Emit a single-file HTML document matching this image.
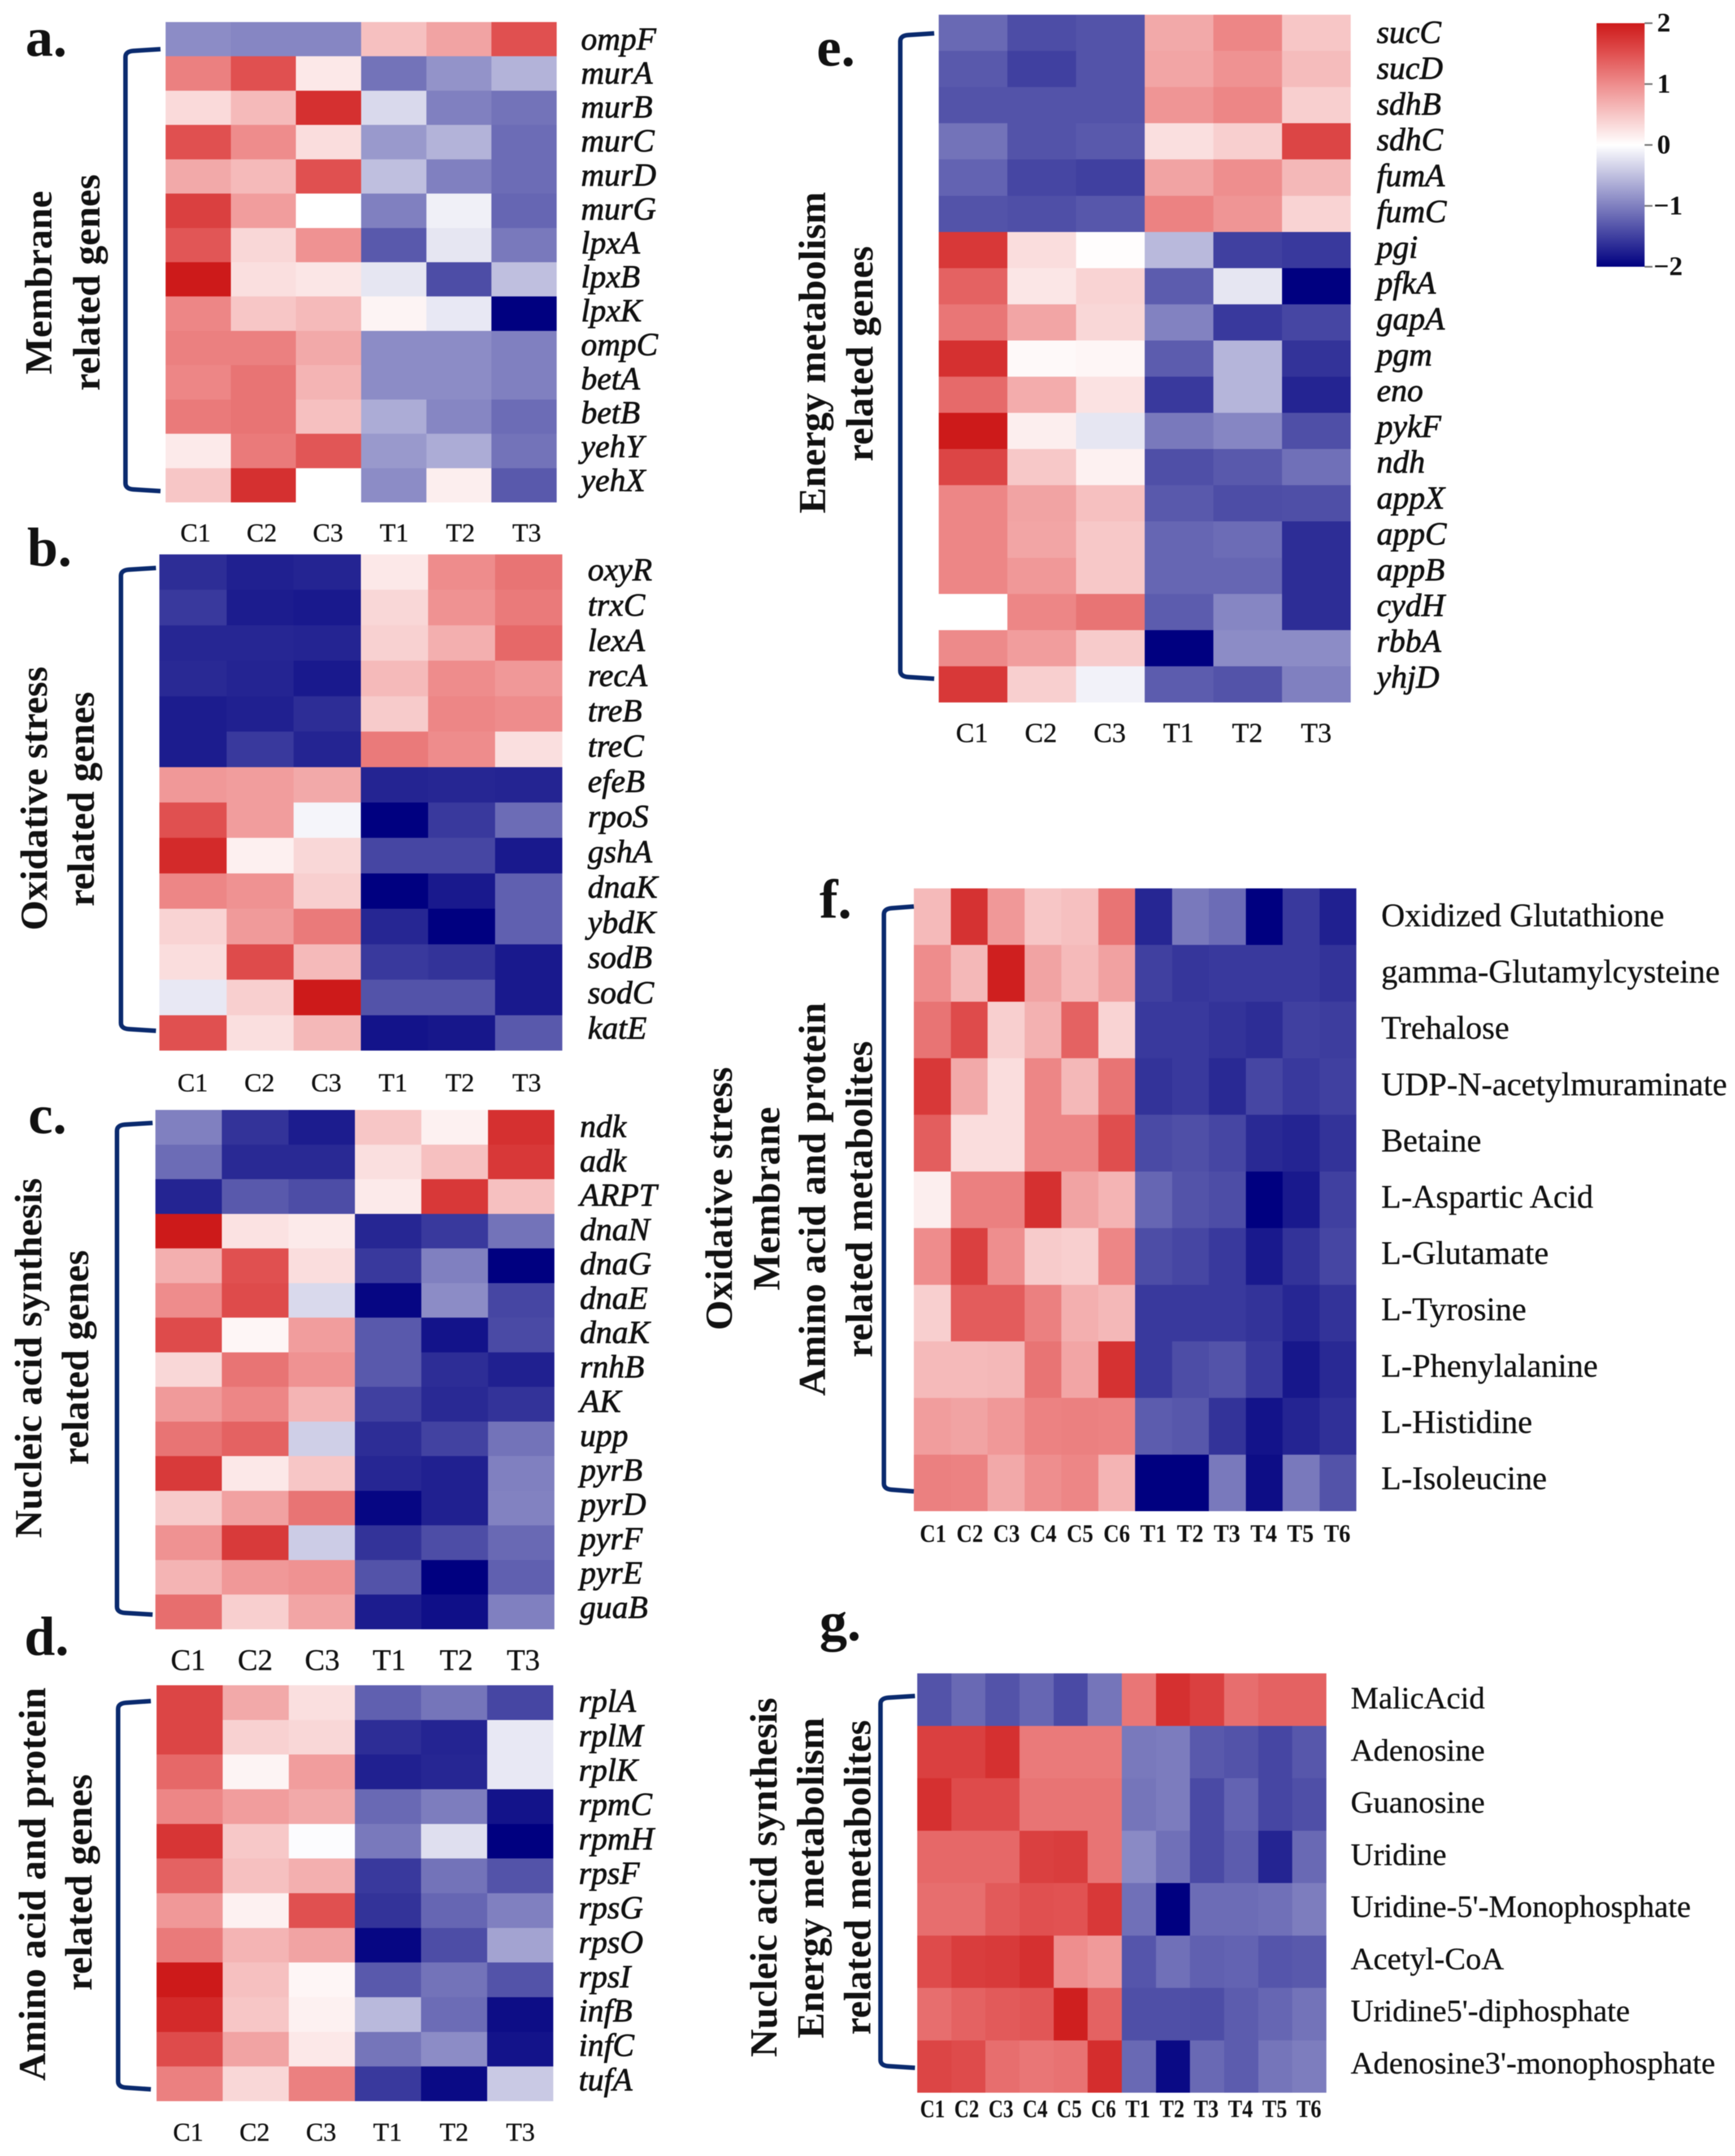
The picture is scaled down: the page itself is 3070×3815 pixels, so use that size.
<!DOCTYPE html>
<html lang="en">
<head>
<meta charset="utf-8">
<title>Gene and metabolite heatmaps</title>
<style>
  html, body { margin: 0; padding: 0; background: #fff; }
  svg { display: block; font-family: "Liberation Serif", serif; filter: blur(0.7px); }
</style>
</head>
<body>
<svg id="figure" xmlns="http://www.w3.org/2000/svg" width="3070" height="3815" viewBox="0 0 3070 3815">
  <defs>
    <linearGradient id="colorbar-gradient" x1="0" y1="0" x2="0" y2="1">
      <stop offset="0" stop-color="#cd1a1a"/>
      <stop offset="0.125" stop-color="#e05050"/>
      <stop offset="0.25" stop-color="#ee8c8c"/>
      <stop offset="0.5" stop-color="#ffffff"/>
      <stop offset="1" stop-color="#000080"/>
    </linearGradient>
  </defs>
</svg>
<script>
// ---------- shared categories ----------
const samplesThree = ['C1','C2','C3','T1','T2','T3'];
const samplesSix = ['C1','C2','C3','C4','C5','C6','T1','T2','T3','T4','T5','T6'];
const colorbarTicks = [2, 1, 0, -1, -2];

// ---------- panel a ----------
const membraneGenes = ['ompF','murA','murB','murC','murD','murG','lpxA','lpxB','lpxK','ompC','betA','betB','yehY','yehX'];
const membraneValues = [
  [-0.9,-0.95,-0.95,0.55,0.8,1.5],
  [1.1,1.5,0.2,-1.1,-0.85,-0.6],
  [0.32,0.6,1.8,-0.3,-1.0,-1.1],
  [1.5,1.0,0.3,-0.8,-0.6,-1.15],
  [0.75,0.6,1.5,-0.5,-1.0,-1.15],
  [1.65,0.85,0,-1.0,-0.12,-1.2],
  [1.45,0.35,0.95,-1.3,-0.2,-1.05],
  [2.0,0.28,0.22,-0.2,-1.4,-0.5],
  [1.05,0.5,0.6,0.1,-0.18,-2.0],
  [1.1,1.1,0.75,-0.9,-0.9,-1.0],
  [1.05,1.2,0.65,-0.9,-0.9,-1.0],
  [1.15,1.2,0.55,-0.65,-0.95,-1.15],
  [0.18,1.15,1.45,-0.8,-0.65,-1.1],
  [0.5,1.8,0.0,-0.9,0.15,-1.3]
];

// ---------- panel b ----------
const oxidativeGenes = ['oxyR','trxC','lexA','recA','treB','treC','efeB','rpoS','gshA','dnaK','ybdK','sodB','sodC','katE'];
const oxidativeValues = [
  [-1.65,-1.75,-1.72,0.2,1.0,1.2],
  [-1.55,-1.78,-1.8,0.35,0.95,1.15],
  [-1.7,-1.7,-1.72,0.4,0.7,1.3],
  [-1.68,-1.72,-1.8,0.6,1.0,0.9],
  [-1.78,-1.75,-1.65,0.45,1.05,1.0],
  [-1.78,-1.55,-1.72,1.15,1.0,0.28],
  [0.9,0.85,0.75,-1.72,-1.7,-1.72],
  [1.5,0.85,-0.08,-2.0,-1.55,-1.15],
  [1.85,0.13,0.35,-1.45,-1.45,-1.8],
  [1.05,0.95,0.42,-2.0,-1.8,-1.25],
  [0.38,0.88,1.15,-1.7,-2.0,-1.25],
  [0.3,1.55,0.6,-1.55,-1.6,-1.8],
  [-0.18,0.42,2.0,-1.35,-1.35,-1.8],
  [1.5,0.28,0.62,-1.85,-1.82,-1.3]
];

// ---------- panel c ----------
const nucleicGenes = ['ndk','adk','ARPT','dnaN','dnaG','dnaE','dnaK','rnhB','AK','upp','pyrB','pyrD','pyrF','pyrE','guaB'];
const nucleicValues = [
  [-1.0,-1.6,-1.78,0.5,0.12,1.8],
  [-1.15,-1.68,-1.68,0.28,0.55,1.72],
  [-1.72,-1.3,-1.4,0.18,1.72,0.55],
  [2.0,0.25,0.18,-1.7,-1.55,-1.1],
  [0.7,1.5,0.3,-1.55,-1.0,-2.0],
  [1.0,1.55,-0.3,-1.95,-0.9,-1.45],
  [1.55,0.08,0.85,-1.3,-1.85,-1.42],
  [0.35,1.2,0.95,-1.3,-1.65,-1.75],
  [0.88,1.05,0.65,-1.5,-1.68,-1.6],
  [1.2,1.35,-0.38,-1.65,-1.48,-1.1],
  [1.7,0.2,0.5,-1.7,-1.75,-1.0],
  [0.45,0.82,1.2,-1.95,-1.75,-0.98],
  [0.95,1.7,-0.4,-1.6,-1.4,-1.18],
  [0.65,0.9,0.95,-1.35,-2.0,-1.25],
  [1.25,0.42,0.78,-1.78,-1.88,-1.0]
];

// ---------- panel d ----------
const proteinGenes = ['rplA','rplM','rplK','rpmC','rpmH','rpsF','rpsG','rpsO','rpsI','infB','infC','tufA'];
const proteinValues = [
  [1.6,0.75,0.28,-1.25,-1.08,-1.45],
  [1.6,0.4,0.35,-1.65,-1.72,-0.18],
  [1.3,0.1,0.85,-1.75,-1.7,-0.18],
  [1.05,0.85,0.75,-1.18,-1.02,-1.85],
  [1.75,0.48,-0.02,-1.05,-0.25,-2.0],
  [1.35,0.55,0.7,-1.55,-1.1,-1.35],
  [0.9,0.12,1.5,-1.6,-1.2,-1.0],
  [1.15,0.65,0.8,-1.95,-1.4,-0.72],
  [2.0,0.55,0.08,-1.3,-1.1,-1.35],
  [1.85,0.5,0.12,-0.55,-1.15,-1.9],
  [1.55,0.8,0.2,-1.08,-0.9,-1.85],
  [1.1,0.35,1.1,-1.55,-1.92,-0.42]
];

// ---------- panel e ----------
const energyGenes = ['sucC','sucD','sdhB','sdhC','fumA','fumC','pgi','pfkA','gapA','pgm','eno','pykF','ndh','appX','appC','appB','cydH','rbbA','yhjD'];
const energyValues = [
  [-1.18,-1.4,-1.35,0.75,1.05,0.5],
  [-1.3,-1.5,-1.35,0.78,0.95,0.58],
  [-1.35,-1.35,-1.35,0.92,1.05,0.42],
  [-1.1,-1.35,-1.3,0.28,0.42,1.6],
  [-1.22,-1.45,-1.5,0.8,0.98,0.62],
  [-1.35,-1.38,-1.32,1.08,0.92,0.38],
  [1.72,0.3,0.02,-0.55,-1.5,-1.55],
  [1.35,0.22,0.38,-1.28,-0.2,-2.0],
  [1.18,0.78,0.35,-0.98,-1.55,-1.45],
  [1.8,0.05,0.08,-1.28,-0.58,-1.6],
  [1.28,0.72,0.25,-1.55,-0.58,-1.72],
  [2.0,0.15,-0.2,-1.05,-0.95,-1.38],
  [1.6,0.48,0.12,-1.38,-1.3,-1.12],
  [1.05,0.8,0.55,-1.3,-1.4,-1.38],
  [1.05,0.78,0.48,-1.2,-1.15,-1.65],
  [1.05,0.9,0.48,-1.2,-1.2,-1.65],
  [0,1.05,1.2,-1.28,-0.95,-1.65],
  [1.02,0.85,0.45,-2.0,-0.9,-0.9],
  [1.72,0.42,-0.1,-1.28,-1.35,-1.0]
];

// ---------- panel f ----------
const stressMetabolites = ['Oxidized Glutathione','gamma-Glutamylcysteine','Trehalose','UDP-N-acetylmuraminate','Betaine','L-Aspartic Acid','L-Glutamate','L-Tyrosine','L-Phenylalanine','L-Histidine','L-Isoleucine'];
const stressValues = [
  [0.6,1.78,0.9,0.5,0.55,1.2,-1.7,-1.05,-1.15,-2,-1.55,-1.75],
  [1.0,0.62,1.95,0.8,0.6,0.82,-1.5,-1.58,-1.55,-1.55,-1.55,-1.6],
  [1.2,1.55,0.42,0.68,1.35,0.38,-1.55,-1.55,-1.6,-1.65,-1.5,-1.52],
  [1.72,0.75,0.3,1.05,0.62,1.2,-1.6,-1.55,-1.68,-1.45,-1.55,-1.5],
  [1.38,0.3,0.3,1.05,1.05,1.52,-1.42,-1.38,-1.45,-1.68,-1.72,-1.6],
  [0.15,1.1,1.1,1.8,0.8,0.65,-1.2,-1.35,-1.4,-2,-1.8,-1.5],
  [1.0,1.65,0.98,0.45,0.42,1.05,-1.4,-1.45,-1.55,-1.8,-1.6,-1.45],
  [0.42,1.4,1.4,1.1,0.7,0.62,-1.55,-1.55,-1.55,-1.6,-1.7,-1.6],
  [0.6,0.6,0.62,1.2,0.78,1.78,-1.55,-1.4,-1.35,-1.55,-1.82,-1.68],
  [0.85,0.8,0.9,1.08,1.1,1.08,-1.28,-1.32,-1.6,-1.85,-1.72,-1.62],
  [1.1,1.08,0.75,0.98,1.05,0.65,-2,-2,-1.05,-1.9,-1.05,-1.35]
];

// ---------- panel g ----------
const nucleotideMetabolites = ['MalicAcid','Adenosine','Guanosine','Uridine',"Uridine-5'-Monophosphate",'Acetyl-CoA',"Uridine5'-diphosphate","Adenosine3'-monophosphate"];
const nucleotideValues = [
  [-1.35,-1.18,-1.35,-1.2,-1.42,-1.08,1.18,1.8,1.65,1.25,1.35,1.35],
  [1.65,1.65,1.8,1.15,1.15,1.15,-1.05,-1.03,-1.3,-1.35,-1.45,-1.32],
  [1.8,1.55,1.55,1.2,1.2,1.2,-1.08,-1.03,-1.42,-1.22,-1.45,-1.38],
  [1.3,1.3,1.3,1.65,1.68,1.2,-0.92,-1.12,-1.42,-1.28,-1.72,-1.18],
  [1.25,1.25,1.42,1.5,1.48,1.72,-1.12,-2,-1.15,-1.15,-1.12,-1.02],
  [1.55,1.68,1.7,1.8,0.98,0.88,-1.33,-1.12,-1.25,-1.22,-1.33,-1.3],
  [1.25,1.35,1.42,1.45,1.95,1.35,-1.38,-1.38,-1.4,-1.28,-1.2,-1.1],
  [1.6,1.55,1.25,1.18,1.22,1.82,-1.18,-1.92,-1.18,-1.28,-1.08,-1.02]
];

// ---------- panel layout (geometry is separate from the data above) ----------
const panels = [
  { id:'a', letter:'a.', letterX:45, letterY:99, rows:membraneGenes, cols:samplesThree, values:membraneValues,
    box:[293,39,985,889], italic:true, labelX:1028, labelFirst:88, labelLast:869, labelSize:57,
    colFirst:346, colLast:932, colBase:958, colSize:46,
    bracket:[222,284,87,869],
    titles:[['Membrane',91,500,325],['related genes',176,500,383]] },
  { id:'b', letter:'b.', letterX:48, letterY:1001, rows:oxidativeGenes, cols:samplesThree, values:oxidativeValues,
    box:[282,981,995,1859], italic:true, labelX:1040, labelFirst:1027, labelLast:1838, labelSize:57,
    colFirst:341, colLast:932, colBase:1931, colSize:46,
    bracket:[214,276,1005,1824],
    titles:[['Oxidative stress',83,1413,467],['related genes',166,1414,380]] },
  { id:'c', letter:'c.', letterX:50, letterY:2005, rows:nucleicGenes, cols:samplesThree, values:nucleicValues,
    box:[275,1964,981,2883], italic:true, labelX:1026, labelFirst:2012, labelLast:2863, labelSize:57,
    colFirst:333, colLast:926, colBase:2955, colSize:53,
    bracket:[207,270,1987,2857],
    titles:[['Nucleic acid synthesis',73,2403,637],['related genes',156,2402,380]] },
  { id:'d', letter:'d.', letterX:43, letterY:2928, rows:proteinGenes, cols:samplesThree, values:proteinValues,
    box:[277,2982,979,3718], italic:true, labelX:1024, labelFirst:3029, labelLast:3699, labelSize:57,
    colFirst:333, colLast:921, colBase:3788, colSize:46,
    bracket:[209,267,3010,3697],
    titles:[['Amino acid and protein',80,3334,696],['related genes',162,3331,383]] },
  { id:'e', letter:'e.', letterX:1445, letterY:116, rows:energyGenes, cols:samplesThree, values:energyValues,
    box:[1661,26,2390,1243], italic:true, labelX:2436, labelFirst:76, labelLast:1217, labelSize:57,
    colFirst:1720, colLast:2329, colBase:1313, colSize:49,
    bracket:[1593,1653,59,1201],
    titles:[['Energy metabolism',1460,624,569],['related genes',1544,626,381]] },
  { id:'f', letter:'f.', letterX:1450, letterY:1624, rows:stressMetabolites, cols:samplesSix, values:stressValues,
    box:[1617,1572,2400,2674], italic:false, labelX:2444, labelFirst:1639, labelLast:2635, labelSize:58,
    colFirst:1651, colLast:2366, colBase:2728, colSize:44, colBold:true, colWidth:47,
    bracket:[1564,1617,1604,2639],
    titles:[['Oxidative stress',1295,2121,466],['Membrane',1379,2121,325],['Amino acid and protein',1460,2122,696],['related metabolites',1543,2122,560]] },
  { id:'g', letter:'g.', letterX:1450, letterY:2902, rows:nucleotideMetabolites, cols:samplesSix, values:nucleotideValues,
    box:[1623,2961,2347,3703], italic:false, labelX:2390, labelFirst:3023, labelLast:3669, labelSize:55.5,
    colFirst:1650, colLast:2316, colBase:3746, colSize:44, colBold:true, colWidth:44,
    bracket:[1558,1619,3001,3659],
    titles:[['Nucleic acid synthesis',1374,3322,636],['Energy metabolism',1457,3323,568],['related metabolites',1540,3322,557]] }
];

const SVG_NS = 'http://www.w3.org/2000/svg';
const figure = document.getElementById('figure');

const redRamp = [[0, [255,255,255]], [1, [238,140,140]], [1.5, [224,80,80]], [2, [205,26,26]]];

// diverging colour scale: navy (-2) to white (0) to firebrick (2)
function colorScale(v) {
  const clamped = Math.max(-2, Math.min(2, v));
  let c;
  if (clamped < 0) {
    const k = -clamped / 2;
    c = [255 * (1 - k), 255 * (1 - k), 255 + (128 - 255) * k];
  } else {
    let i = 0;
    while (i < redRamp.length - 2 && clamped > redRamp[i + 1][0]) i++;
    const a = redRamp[i], b = redRamp[i + 1];
    const k = (clamped - a[0]) / (b[0] - a[0]);
    c = a[1].map((f, j) => f + (b[1][j] - f) * k);
  }
  return 'rgb(' + c.map(Math.round).join(',') + ')';
}

// band axis: maps an index to its band start
function bandScale(start, end, count) {
  const step = (end - start) / count;
  return i => start + i * step;
}

// point axis: maps an index to a position between first and last
function pointScale(first, last, count) {
  return i => count > 1 ? first + (last - first) * i / (count - 1) : first;
}

function addText(parent, name, content, x, y, size, opts) {
  const el = document.createElementNS(SVG_NS, 'text');
  
  
  el.setAttribute('x', x);
  el.setAttribute('y', y);
  el.setAttribute('font-size', size);
  el.setAttribute('fill', '#111');
  if (opts.weight) el.setAttribute('font-weight', opts.weight);
  if (opts.style) el.setAttribute('font-style', opts.style);
  if (opts.anchor) el.setAttribute('text-anchor', opts.anchor);
  if (opts.rotate) el.setAttribute('transform', 'rotate(-90 ' + x + ' ' + y + ')');
  if (opts.stroke) {
    el.setAttribute('stroke', '#111');
    el.setAttribute('stroke-width', opts.stroke);
  }
  if (opts.length) {
    el.setAttribute('textLength', opts.length);
    el.setAttribute('lengthAdjust', 'spacingAndGlyphs');
  }
  el.textContent = content;
  parent.appendChild(el);
  return el;
}

function drawPanel(p) {
  const g = document.createElementNS(SVG_NS, 'g');
  
  
  figure.appendChild(g);

  addText(g, 'panel-letter-' + p.id, p.letter, p.letterX, p.letterY, 98, { weight: 'bold' });

  // heatmap cells
  const [x0, y0, x1, y1] = p.box;
  const xBand = bandScale(x0, x1, p.cols.length);
  const yBand = bandScale(y0, y1, p.rows.length);
  p.values.forEach((row, r) => {
    row.forEach((v, c) => {
      const cell = document.createElementNS(SVG_NS, 'rect');
      
      
      cell.setAttribute('x', xBand(c));
      cell.setAttribute('y', yBand(r));
      cell.setAttribute('width', xBand(c + 1) - xBand(c));
      cell.setAttribute('height', yBand(r + 1) - yBand(r));
      cell.setAttribute('fill', colorScale(v));
      cell.setAttribute('shape-rendering', 'crispEdges');
      g.appendChild(cell);
    });
  });

  // row labels
  const yLabel = pointScale(p.labelFirst, p.labelLast, p.rows.length);
  p.rows.forEach((name, r) => {
    addText(g, 'row-label-' + p.id + '-' + name, name, p.labelX, yLabel(r), p.labelSize, { style: p.italic ? 'italic' : '', stroke: p.italic ? 1 : 0.4 });
  });

  // column labels
  const xLabel = pointScale(p.colFirst, p.colLast, p.cols.length);
  p.cols.forEach((name, c) => {
    addText(g, 'column-label-' + p.id + '-' + name, name, xLabel(c), p.colBase, p.colSize, { anchor: 'middle', weight: p.colBold ? 'bold' : '', length: p.colWidth, stroke: p.colBold ? 0 : 0.5 });
  });

  // bracket
  const [bl, br, bt, bb] = p.bracket;
  const bracket = document.createElementNS(SVG_NS, 'path');
  
  
  bracket.setAttribute('d', 'M' + br + ',' + bt + ' L' + (bl + 14) + ',' + (bt + 3) + ' Q' + bl + ',' + (bt + 4) + ' ' + bl + ',' + (bt + 14) +
    ' V' + (bb - 14) + ' Q' + bl + ',' + (bb - 4) + ' ' + (bl + 14) + ',' + (bb - 3) + ' L' + br + ',' + bb);
  bracket.setAttribute('fill', 'none');
  bracket.setAttribute('stroke', '#0a2a6e');
  bracket.setAttribute('stroke-width', '8');
  g.appendChild(bracket);

  // group titles
  p.titles.forEach((t, i) => {
    addText(g, 'group-title-' + p.id + '-' + (i + 1), t[0], t[1], t[2], 68, { weight: 'bold', anchor: 'middle', rotate: true, length: t[3] });
  });
}

function drawColorbar() {
  const g = document.createElementNS(SVG_NS, 'g');
  
  
  figure.appendChild(g);

  const yValue = v => 256.5 - v * (472 - 41) / 4;
  const bar = document.createElementNS(SVG_NS, 'rect');
  
  
  bar.setAttribute('x', 2825);
  bar.setAttribute('y', yValue(2));
  bar.setAttribute('width', 85);
  bar.setAttribute('height', yValue(-2) - yValue(2));
  bar.setAttribute('fill', 'url(#colorbar-gradient)');
  g.appendChild(bar);

  colorbarTicks.forEach(v => {
    const tick = document.createElementNS(SVG_NS, 'line');
    
    
    tick.setAttribute('x1', 2910);
    tick.setAttribute('x2', 2924);
    tick.setAttribute('y1', yValue(v));
    tick.setAttribute('y2', yValue(v));
    tick.setAttribute('stroke', '#777');
    tick.setAttribute('stroke-width', '3');
    g.appendChild(tick);
    const label = v < 0 ? '\u2212' + Math.abs(v) : String(v);
    addText(g, 'colorbar-label-' + v, label, v < 0 ? 2926 : 2932, yValue(v) + 15, 48, { weight: 'bold' });
  });
}

panels.forEach(drawPanel);
drawColorbar();
</script>
</body>
</html>
